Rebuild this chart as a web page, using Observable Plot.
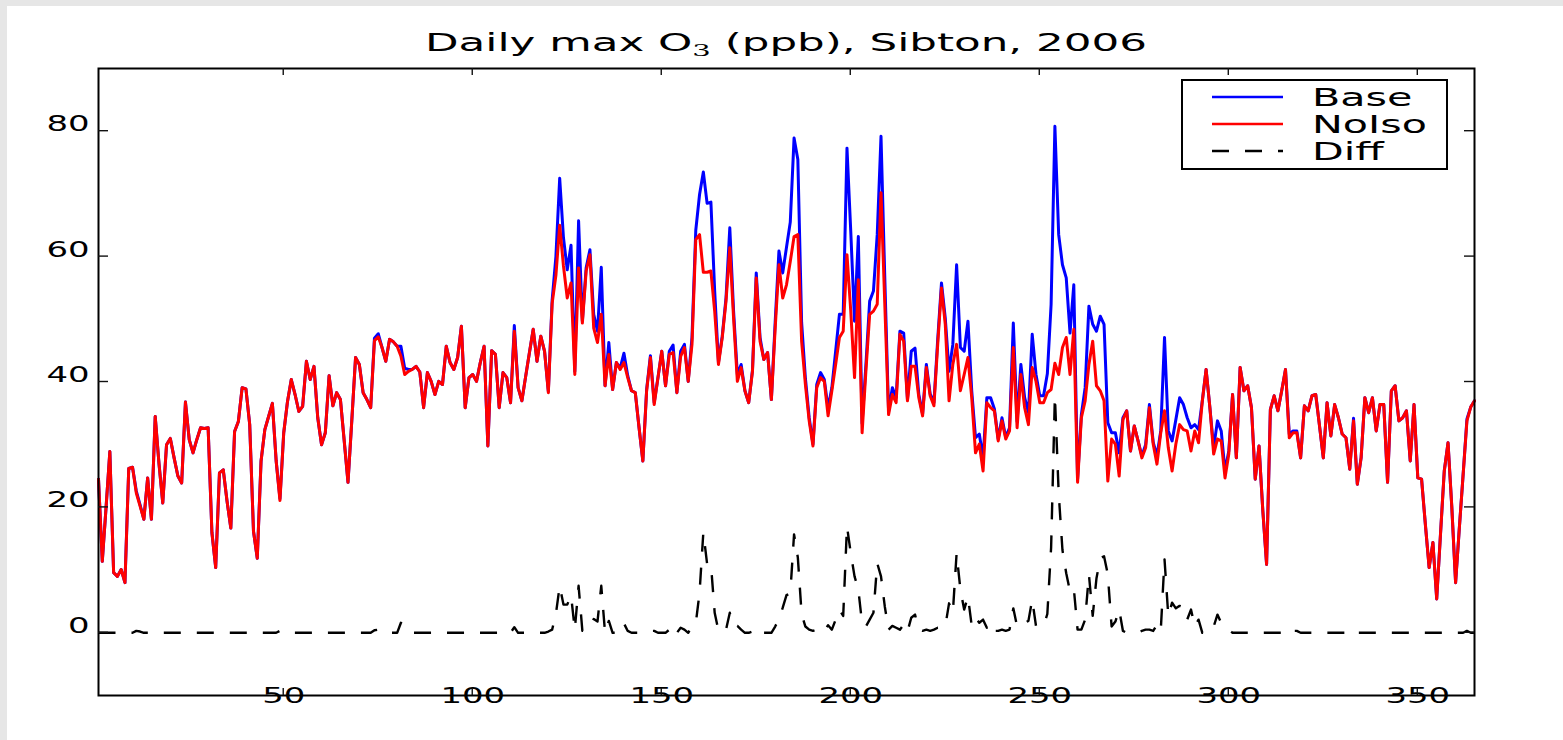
<!DOCTYPE html>
<html>
<head>
<meta charset="utf-8">
<script src="https://cdn.jsdelivr.net/npm/d3@7"></script>
<script src="https://cdn.jsdelivr.net/npm/@observablehq/plot@0.6"></script>
<style>
  html, body { margin: 0; padding: 0; background: #e6e6e6; width: 1563px; height: 740px; overflow: hidden; }
  #panel { position: absolute; left: 7px; top: 6px; width: 1556px; height: 734px; background: #ffffff; }
</style>
</head>
<body>
<div id="panel"></div>
<script>
// ---- data ----
const days = d3.range(1, 366);
const base = [
24.5,11.4,20.0,28.9,9.6,9.0,10.1,8.0,26.2,26.4,
22.6,20.4,18.1,24.7,18.1,34.5,27.0,20.7,30.0,31.0,
27.9,25.0,23.9,36.8,30.8,28.7,30.8,32.7,32.6,32.7,
16.0,10.4,25.5,26.0,21.0,16.7,32.1,33.7,39.1,38.9,
33.2,16.2,11.9,27.4,32.4,34.5,36.6,27.4,21.4,31.9,
36.9,40.4,38.0,35.3,36.1,43.3,40.4,42.5,34.3,30.0,
31.9,41.0,36.2,38.3,37.2,30.6,24.0,33.8,43.9,42.8,
38.3,37.2,35.9,47.0,47.7,45.5,43.3,46.8,46.4,45.7,
45.7,42.2,42.0,42.0,42.5,41.6,35.9,41.5,40.1,38.0,
40.1,39.6,45.7,43.1,42.0,43.9,48.9,35.9,40.7,41.2,
40.1,43.1,45.7,29.8,45.0,44.4,35.9,41.5,40.7,36.7,
49.0,39.1,37.0,40.9,44.7,48.4,43.3,47.3,44.9,38.5,
53.0,60.0,72.5,63.0,57.9,61.8,41.7,65.7,49.7,58.2,
61.1,50.8,48.1,58.3,39.4,46.3,38.8,43.1,42.2,44.6,
41.0,38.6,38.3,32.7,27.4,38.8,44.2,36.7,40.7,44.9,
39.4,44.9,45.9,38.3,44.9,46.0,40.1,47.1,64.2,69.9,
73.5,68.5,68.7,54.5,43.1,47.3,53.4,64.6,51.3,41.2,
42.8,38.6,36.7,41.9,57.4,47.1,43.6,44.7,37.2,49.5,
60.9,57.4,61.5,65.5,78.9,75.5,49.5,40.6,34.3,30.1,
39.6,41.5,40.4,35.8,39.1,44.9,50.8,50.8,77.3,64.0,
49.7,63.2,33.4,42.7,52.9,54.5,63.5,79.2,56.6,35.3,
39.1,37.5,48.1,47.8,37.2,44.9,45.4,38.0,34.9,42.8,
38.1,36.7,46.8,55.8,50.2,41.7,46.0,58.7,45.5,44.9,
49.7,38.6,31.1,31.7,27.9,37.5,37.5,35.7,30.9,34.3,
31.2,32.7,49.4,33.7,42.8,37.5,35.1,47.6,41.2,37.8,
37.8,41.3,52.4,80.8,63.5,58.7,56.6,47.8,55.5,24.5,
34.8,39.1,52.1,49.2,48.1,50.5,49.2,33.5,31.9,31.9,
28.7,34.3,35.4,29.0,33.0,30.6,28.2,30.0,36.4,30.4,
28.2,32.2,47.1,32.2,30.6,34.0,37.5,36.4,34.3,32.7,
33.2,32.4,37.0,42.0,35.9,29.5,33.8,32.2,25.8,29.0,
38.0,27.9,42.3,38.6,39.4,35.9,24.5,29.8,19.5,10.9,
35.6,37.8,35.4,38.6,42.0,31.7,32.2,32.2,27.9,36.2,
35.4,37.8,38.0,33.0,27.9,36.7,31.4,36.4,34.3,31.7,
31.1,26.1,34.2,23.7,27.9,37.5,35.1,37.5,32.2,36.4,
36.4,24.0,38.6,39.4,33.8,34.3,35.4,27.4,36.4,24.7,
24.5,17.3,10.4,14.4,5.4,15.7,25.8,30.3,20.0,8.0,
16.8,25.3,34.1,36.0,37.0
];
const noIso = [
24.5,11.4,20.0,28.9,9.6,9.0,10.1,8.0,26.2,26.4,
22.3,20.2,18.1,24.7,18.1,34.5,27.0,20.7,30.0,31.0,
27.9,25.0,23.9,36.8,30.8,28.7,30.8,32.7,32.6,32.7,
16.0,10.4,25.5,26.0,21.0,16.7,32.1,33.7,39.1,38.9,
33.2,16.2,11.9,27.4,32.4,34.5,36.6,27.4,21.1,31.9,
36.9,40.4,38.0,35.3,36.1,43.3,40.4,42.5,34.3,30.0,
31.9,41.0,36.2,38.3,37.2,30.6,24.0,33.8,43.9,42.8,
38.3,37.2,35.9,46.6,47.2,45.5,43.3,46.8,46.4,45.7,
44.1,41.2,41.7,42.0,42.5,41.6,35.9,41.5,40.1,38.0,
40.1,39.6,45.7,43.1,42.0,43.9,48.9,35.9,40.7,41.2,
40.1,43.1,45.7,29.8,45.0,44.4,35.9,41.5,40.7,36.7,
48.1,39.1,37.0,40.9,44.7,48.4,43.3,47.3,44.9,38.3,
52.5,57.0,65.0,58.5,53.4,55.8,41.2,58.2,49.4,57.7,
60.3,48.6,46.3,50.8,39.4,44.4,38.8,43.1,42.0,43.1,
40.7,38.6,38.3,32.7,27.4,38.6,43.9,36.4,40.7,44.9,
39.4,44.4,44.7,38.3,44.1,45.5,40.1,46.0,62.7,63.5,
57.5,57.5,57.7,51.3,42.8,47.1,52.9,61.4,50.2,40.1,
42.3,38.6,36.7,41.7,56.6,46.5,43.6,44.7,37.2,48.5,
58.7,53.4,55.5,59.2,63.2,63.5,46.5,39.6,33.8,29.8,
39.1,40.7,40.1,34.6,38.6,42.8,47.1,48.1,60.3,51.3,
40.7,56.3,31.9,41.7,50.8,51.3,52.4,70.2,52.4,34.8,
38.0,36.7,47.6,46.5,37.0,42.5,42.5,37.5,34.6,42.3,
37.8,36.2,46.0,55.0,49.2,37.0,42.8,46.0,38.6,41.2,
43.9,37.5,28.7,30.1,25.8,36.7,35.9,35.4,30.6,33.8,
30.9,32.2,45.5,32.7,41.2,35.9,33.2,42.3,40.1,36.7,
36.7,38.3,38.8,43.0,41.2,45.5,47.1,41.2,48.4,24.0,
34.3,37.0,42.8,46.5,39.4,38.6,37.0,24.2,30.9,30.1,
25.0,34.0,35.4,29.0,33.0,30.6,27.9,29.5,35.9,30.1,
26.9,31.9,35.4,29.5,25.8,30.1,33.2,32.4,32.2,29.0,
32.2,30.3,37.0,42.0,35.9,28.5,30.9,30.6,24.7,28.5,
38.0,27.9,42.3,38.6,39.4,35.9,24.5,29.8,19.5,10.9,
35.6,37.8,35.4,38.6,42.0,31.1,31.9,31.9,27.9,36.2,
35.4,37.8,38.0,33.0,27.9,36.7,31.4,36.4,34.3,31.7,
31.1,26.1,33.8,23.7,27.9,37.5,35.1,37.5,32.2,36.4,
36.4,24.0,38.6,39.4,33.8,34.3,35.4,27.4,36.4,24.7,
24.5,17.3,10.4,14.4,5.4,15.7,25.8,30.3,20.0,8.0,
16.8,25.3,33.8,36.0,37.0
];
const diff = [
0,0,0,0,0,0,0,0,0,0,
0.3,0.2,0,0,0,0,0,0,0,0,
0,0,0,0,0,0,0,0,0,0,
0,0,0,0,0,0,0,0,0,0,
0,0,0,0,0,0,0,0,0.3,0,
0,0,0,0,0,0,0,0,0,0,
0,0,0,0,0,0,0,0,0,0,
0,0,0,0.4,0.5,0,0,0,0,0,
1.6,1.0,0.3,0,0,0,0,0,0,0,
0,0,0,0,0,0,0,0,0,0,
0,0,0,0,0,0,0,0,0,0,
0.9,0,0,0,0,0,0,0,0,0.2,
0.5,3.0,7.5,4.5,4.5,6.0,0.5,7.5,0.3,0.5,
0.8,2.2,1.8,7.5,0,1.9,0,0,0.2,1.5,
0.3,0,0,0,0,0.2,0.3,0.3,0,0,
0,0.5,1.2,0,0.8,0.5,0,1.1,1.5,6.4,
16.0,11.0,11.0,3.2,0.3,0.2,0.5,3.2,1.1,1.1,
0.5,0,0,0.2,0.8,0.6,0,0,0,1.0,
2.2,4.0,6.0,6.3,15.7,12.0,3.0,1.0,0.5,0.3,
0.5,0.8,0.3,1.2,0.5,2.1,3.7,2.7,17.0,12.7,
9.0,6.9,1.5,1.0,2.1,3.2,11.1,9.0,4.2,0.5,
1.1,0.8,0.5,1.3,0.2,2.4,2.9,0.5,0.3,0.5,
0.3,0.5,0.8,0.8,1.0,4.7,3.2,12.7,6.9,3.7,
5.8,1.1,2.4,1.6,2.1,0.8,1.6,0.3,0.3,0.5,
0.3,0.5,3.9,1.0,1.6,1.6,1.9,5.3,1.1,1.1,
1.1,3.0,13.6,37.8,22.3,13.2,9.5,6.6,7.1,0.5,
0.5,2.1,9.3,2.7,8.7,11.9,12.2,9.3,1.0,1.8,
3.7,0.3,0,0,0,0,0.3,0.5,0.5,0.3,
1.3,0.3,11.7,2.7,4.8,3.9,4.3,4.0,2.1,3.7,
1.0,2.1,0,0,0,1.0,2.9,1.6,1.1,0.5,
0,0,0,0,0,0,0,0,0,0,
0,0,0,0,0,0.6,0.3,0.3,0,0,
0,0,0,0,0,0,0,0,0,0,
0,0,0.4,0,0,0,0,0,0,0,
0,0,0,0,0,0,0,0,0,0,
0,0,0,0,0,0,0,0,0,0,
0,0,0.3,0,0
];
const seriesNames = ["Base", "NoIso", "Diff"];
const seriesColors = ["#0000ff", "#ff0000", "#000000"];
const xTicks = [50, 100, 150, 200, 250, 300, 350];
const yTicks = [0, 20, 40, 60, 80];
const xDomain = [1, 365];
const yDomain = [-10, 90];

// ---- layout ----
const W = 1556, H = 734;
const M = {left: 91, right: 89, top: 62, bottom: 45};
const FONT = "DejaVu Sans, Bitstream Vera Sans, sans-serif";
const DASH = "17,16";

const rows = days.map((d, i) => ({day: d, base: base[i], noIso: noIso[i], diff: diff[i]}));

const chart = Plot.plot({
  width: W, height: H,
  marginLeft: M.left, marginRight: M.right, marginTop: M.top, marginBottom: M.bottom,
  style: {fontFamily: FONT, background: "transparent", color: "#000", overflow: "visible"},
  x: {domain: xDomain},
  y: {domain: yDomain},
  marks: [
    Plot.lineY(rows, {x: "day", y: "base", stroke: seriesColors[0], strokeWidth: 3}),
    Plot.lineY(rows, {x: "day", y: "noIso", stroke: seriesColors[1], strokeWidth: 3}),
    Plot.lineY(rows, {x: "day", y: "diff", stroke: seriesColors[2], strokeWidth: 2.4,
                      strokeDasharray: DASH, strokeLinecap: "butt"}),
    Plot.axisX(xTicks, {anchor: "bottom", tickSize: 0, tickPadding: 7, fontSize: 22, label: null}),
    Plot.axisY(yTicks, {anchor: "left", tickSize: 0, tickPadding: 9, fontSize: 22, label: null}),
    Plot.frame({stroke: "#000", strokeWidth: 2})
  ]
});
document.getElementById("panel").appendChild(chart);

// horizontal stretch of text, as in the reference picture
function stretch(el, k) {
  const x = +el.getAttribute("x") || 0, y = +el.getAttribute("y") || 0;
  el.removeAttribute("x"); el.removeAttribute("y");
  const t = el.getAttribute("transform") || "";
  el.setAttribute("transform", `${t} translate(${x},${y}) scale(${k},1)`);
}

const svg = d3.select(chart);
svg.selectAll('g[aria-label="x-axis tick label"] text, g[aria-label="y-axis tick label"] text')
  .each(function() { stretch(this, 1.54); });

// inward ticks on all four sides, placed with Plot's own scales
const xScale = chart.scale("x"), yScale = chart.scale("y");
const pL = M.left, pR = W - M.right, pT = M.top, pB = H - M.bottom;
const tg = svg.append("g").attr("stroke", "#111").attr("stroke-width", 1.4);
for (const t of xTicks) {
  const px = xScale.apply(t);
  tg.append("line").attr("x1", px).attr("x2", px).attr("y1", pB).attr("y2", pB - 7);
  tg.append("line").attr("x1", px).attr("x2", px).attr("y1", pT).attr("y2", pT + 7);
}
for (const t of yTicks) {
  const py = yScale.apply(t);
  tg.append("line").attr("y1", py).attr("y2", py).attr("x1", pL).attr("x2", pL + 10);
  tg.append("line").attr("y1", py).attr("y2", py).attr("x1", pR).attr("x2", pR - 10);
}

// title
const title = svg.append("text")
  .attr("x", (pL + pR) / 2).attr("y", 45)
  .attr("text-anchor", "middle").attr("font-size", 24).attr("font-family", FONT).attr("fill", "#000");
title.append("tspan").text("Daily max O");
title.append("tspan").attr("font-size", 16).attr("dy", 5).attr("font-family", "DejaVu Serif, serif").text("3");
title.append("tspan").attr("dy", -5).text("\u00a0(ppb), Sibton, 2006");
{
  const w = title.node().getComputedTextLength();
  stretch(title.node(), 722 / w);
}

// legend
const lg = svg.append("g");
lg.append("rect").attr("x", 1175).attr("y", 74).attr("width", 265).attr("height", 89)
  .attr("fill", "#fff").attr("stroke", "#000").attr("stroke-width", 2);
seriesNames.forEach((name, i) => {
  const ly = 91 + i * 27;
  const ln = lg.append("line").attr("x1", 1205).attr("x2", 1276).attr("y1", ly).attr("y2", ly)
    .attr("stroke", seriesColors[i]).attr("stroke-width", i === 2 ? 2.4 : 2.6);
  if (i === 2) ln.attr("stroke-dasharray", DASH).attr("stroke-linecap", "butt");
  const tx = lg.append("text").attr("x", 1305).attr("y", ly).attr("dy", "0.36em")
    .attr("text-anchor", "start")
    .attr("font-size", 25).attr("font-family", FONT).attr("fill", "#000").text(name);
  stretch(tx.node(), 1.65);
});
</script>
</body>
</html>
